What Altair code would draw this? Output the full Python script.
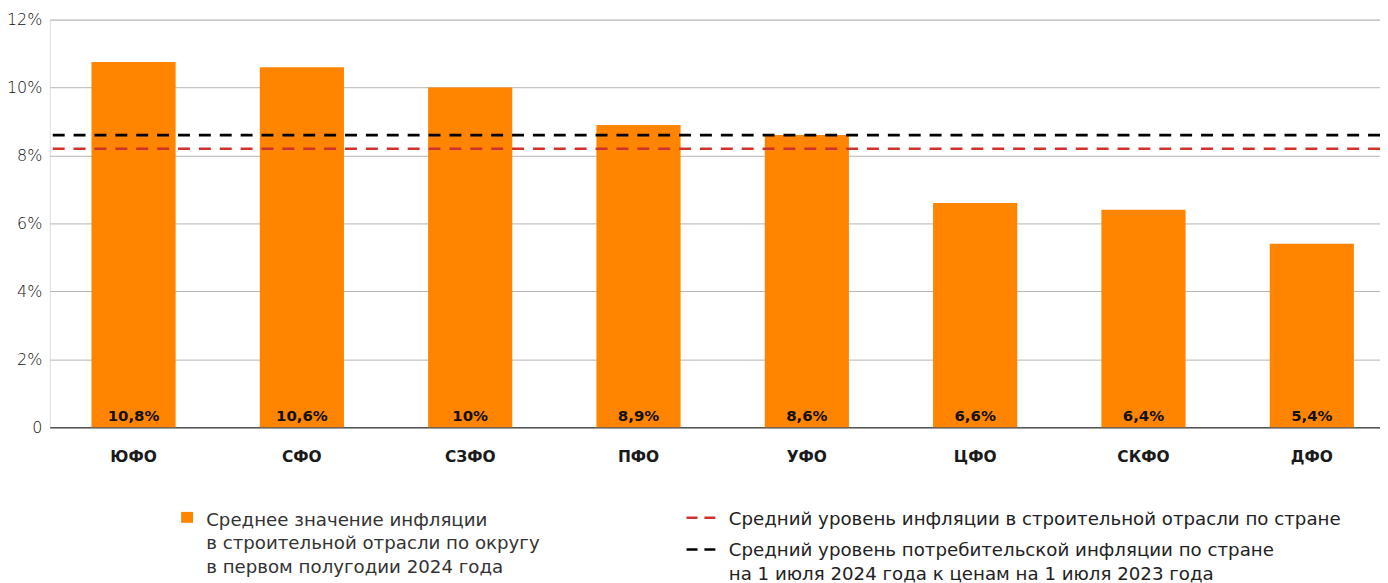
import altair as alt
import pandas as pd

districts = ["ЮФО", "СФО", "СЗФО", "ПФО", "УФО", "ЦФО", "СКФО", "ДФО"]
values = [10.75, 10.6, 10.0, 8.9, 8.6, 6.6, 6.4, 5.4]
labels = ["10,8%", "10,6%", "10%", "8,9%", "8,6%", "6,6%", "6,4%", "5,4%"]

bar_series = "Среднее значение инфляции\nв строительной отрасли по округу\nв первом полугодии 2024 года"
ref_names = [
    "Средний уровень инфляции в строительной отрасли по стране",
    "Средний уровень потребительской инфляции по стране\nна 1 июля 2024 года к ценам на 1 июля 2023 года",
]
ref_values = [8.2, 8.6]
y_ticks = [0, 2, 4, 6, 8, 10, 12]

bars_df = pd.DataFrame({"district": districts, "value": values, "label": labels, "series": bar_series})
refs_df = pd.DataFrame({"name": ref_names, "value": ref_values})

ORANGE = "#FF8400"
RED = "#D0312D"
BLACK = "#000000"
FONT = "DejaVu Sans"

x_scale = alt.Scale(paddingInner=0.5, paddingOuter=0.2015, align=0.615)
x_enc = alt.X(
    "district:N",
    sort=districts,
    title=None,
    scale=x_scale,
    axis=alt.Axis(
        labelAngle=0, ticks=False, tickSize=0, domain=True, domainColor="#555555",
        domainWidth=1.5, labelFont=FONT, labelFontWeight="bold", labelFontSize=15.5,
        labelColor="#1a1a1a", labelPadding=22, grid=False,
    ),
)
y_scale = alt.Scale(domain=[0, 12], nice=False)
y_axis = alt.Axis(
    values=y_ticks, labelExpr="datum.value == 0 ? '0' : datum.value + '%'",
    domain=False, ticks=False, grid=True, gridColor="#b5b5b5", gridWidth=1,
    labelFont=FONT, labelFontSize=16, labelFontWeight=300, labelColor="#111111",
    labelPadding=8, title=None,
)

base = alt.Chart(bars_df)

bars = base.mark_bar().encode(
    x=x_enc,
    y=alt.Y("value:Q", scale=y_scale, axis=y_axis),
    fill=alt.Fill(
        "series:N",
        scale=alt.Scale(domain=[bar_series], range=[ORANGE]),
        legend=alt.Legend(
            title=None, orient="none", legendX=129, legendY=500, padding=0,
            symbolType="M-1,-2.33H1V-0.5H-1Z", symbolSize=144, symbolStrokeWidth=0,
            labelExpr="split(datum.label, '\\n')", labelFont=FONT, labelFontSize=18.3,
            labelColor="#333333", labelLimit=600, labelOffset=10, labelBaseline="alphabetic",
        ),
    ),
)

rules = alt.Chart(refs_df).mark_rule(strokeDash=[12, 9], strokeWidth=2.6).encode(
    y=alt.Y("value:Q", scale=y_scale),
    stroke=alt.Stroke(
        "name:N",
        sort=ref_names,
        scale=alt.Scale(domain=ref_names, range=[RED, BLACK]),
        legend=alt.Legend(
            title=None, orient="none", legendX=639, legendY=492, padding=0,
            symbolType="M-1,-0.48H-0.24M0.24,-0.48H1", symbolSize=841, symbolStrokeWidth=2.6,
            labelExpr="split(datum.label, '\\n')", labelFont=FONT, labelFontSize=18.3,
            labelColor="#222222", labelLimit=900, labelOffset=12, labelBaseline="alphabetic",
            rowPadding=12,
        ),
    ),
)

texts = base.mark_text(
    font=FONT, fontWeight="bold", fontSize=15, color="#111111", baseline="middle", dy=-11
).encode(
    x=alt.X("district:N", sort=districts, scale=x_scale),
    y=alt.datum(0, scale=y_scale),
    text="label:N",
)

chart = (
    alt.layer(bars, rules, texts)
    .properties(
        width=1338, height=410,
        autosize=alt.AutoSizeParams(type="none"),
        padding={"left": 42, "top": 10, "right": 0, "bottom": 155},
    )
    .configure_view(stroke=None)
    .configure(style={"guide-label": {"lineHeight": 23.5}})
)

chart.save("out.html", embed_options={"renderer": "svg", "actions": False})
